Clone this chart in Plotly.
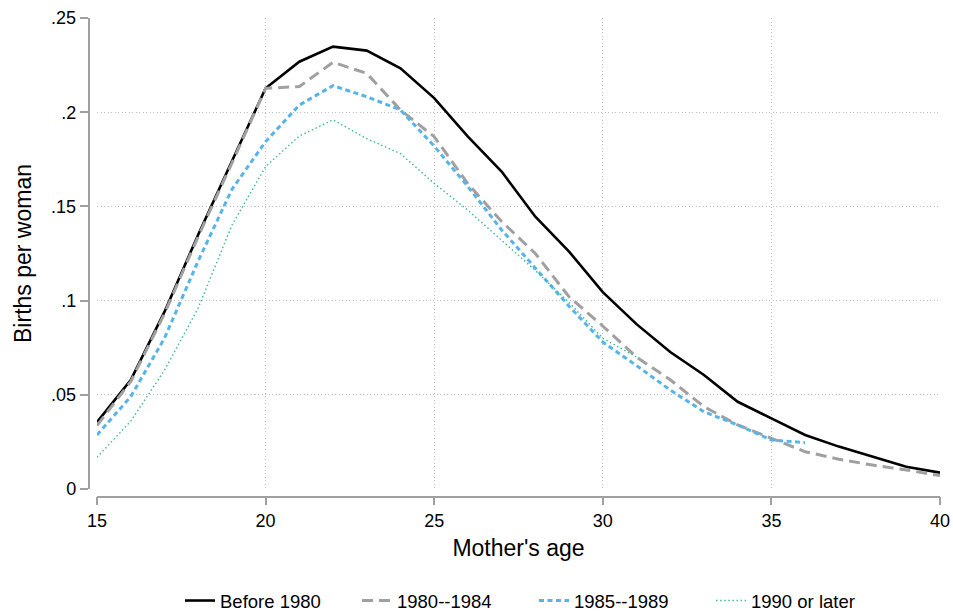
import plotly.graph_objects as go

# ---- data ----
ages = list(range(15, 41))
series_names = ["Before 1980", "1980--1984", "1985--1989", "1990 or later"]
before_1980 = [0.0355, 0.0578, 0.094, 0.135, 0.174, 0.2127, 0.2268, 0.2348, 0.2327, 0.2233,
               0.2075, 0.187, 0.1685, 0.1445, 0.126, 0.1045, 0.0875, 0.0727, 0.0605, 0.0463,
               0.0375, 0.0287, 0.0225, 0.0172, 0.0118, 0.0087]
c1980_1984 = [0.0336, 0.057, 0.093, 0.134, 0.173, 0.2127, 0.2136, 0.2265, 0.2206, 0.2012,
              0.187, 0.162, 0.142, 0.125, 0.102, 0.0865, 0.070, 0.058, 0.0437, 0.034,
              0.0269, 0.0198, 0.0158, 0.0127, 0.0101, 0.0071]
c1985_1989 = [0.0287, 0.049, 0.080, 0.121, 0.159, 0.1844, 0.2038, 0.2141, 0.2082, 0.2012,
              0.182, 0.1605, 0.1375, 0.117, 0.097, 0.078, 0.0655, 0.0525, 0.041, 0.034,
              0.026, 0.0246]
c1990_later = [0.0168, 0.036, 0.063, 0.096, 0.140, 0.1711, 0.1874, 0.1959, 0.186, 0.178,
               0.1622, 0.148, 0.132, 0.116, 0.099, 0.080, 0.070]
x_ticks = [15, 20, 25, 30, 35, 40]
y_ticks = [0, 0.05, 0.1, 0.15, 0.2, 0.25]
y_ticktext = ["0", ".05", ".1", ".15", ".2", ".25"]

# ---- layout geometry (pixels of the 953x613 window; body margin removed below) ----
W, H = 953, 613
ML, MR, MT, MB = 58, 5, 10, 58
PW, PH = W - ML - MR, H - MT - MB

def px_x(p):
    return (p - ML) / PW

def px_y(p):
    return 1 - (p - MT) / PH

styles = [
    dict(color="#000000", width=2.6, dash="solid"),
    dict(color="#A0A0A0", width=3, dash="11px,6px"),
    dict(color="#56B4E9", width=3, dash="5px,3.5px"),
    dict(color="#3DB890", width=1.4, dash="1.5px,2.6px"),
]
values = [before_1980, c1980_1984, c1985_1989, c1990_later]

fig = go.Figure()
for name, vals, st in zip(series_names, values, styles):
    fig.add_trace(go.Scatter(x=ages[:len(vals)], y=vals, mode="lines", name=name,
                             line=st))

FAM = "Liberation Sans, Arial, sans-serif"
axis_font = dict(family=FAM, size=18, color="#000000")
title_font = dict(family=FAM, size=23, color="#000000")
grid = dict(showgrid=True, gridcolor="#BDBDBD", gridwidth=1, griddash="1px,2.5px")
axline = dict(ticks="outside", ticklen=8, tickwidth=1.5, tickcolor="#A0A0A0",
              showline=True, linecolor="#A0A0A0", linewidth=1.5, zeroline=False)

fig.update_layout(
    width=W, height=H,
    margin=dict(l=ML, r=MR, t=MT, b=MB, autoexpand=False),
    paper_bgcolor="white", plot_bgcolor="white",
    font=dict(family=FAM, color="#000000"),
    xaxis=dict(
        domain=[px_x(97), px_x(940)], range=[15, 40],
        anchor="free", position=px_y(496.5),
        tickvals=x_ticks, tickfont=axis_font,
        title=dict(text="Mother's age", font=title_font, standoff=9),
        **grid, **axline,
    ),
    yaxis=dict(
        domain=[px_y(489), px_y(18)], range=[0, 0.25],
        anchor="free", position=px_x(88.5),
        tickvals=y_ticks, ticktext=y_ticktext, tickfont=axis_font,
        title=dict(text="Births per woman", font=title_font, standoff=12),
        **grid, **axline,
    ),
    legend=dict(
        orientation="h", x=px_x(180), xanchor="left", y=px_y(601), yanchor="middle",
        font=dict(family=FAM, size=18.5, color="#000000"),
        entrywidth=132, entrywidthmode="pixels",
        bgcolor="rgba(0,0,0,0)",
    ),
    showlegend=True,
)

fig.write_html("out.html", config={"displayModeBar": False},
               post_script="document.body.style.margin='0px';")
